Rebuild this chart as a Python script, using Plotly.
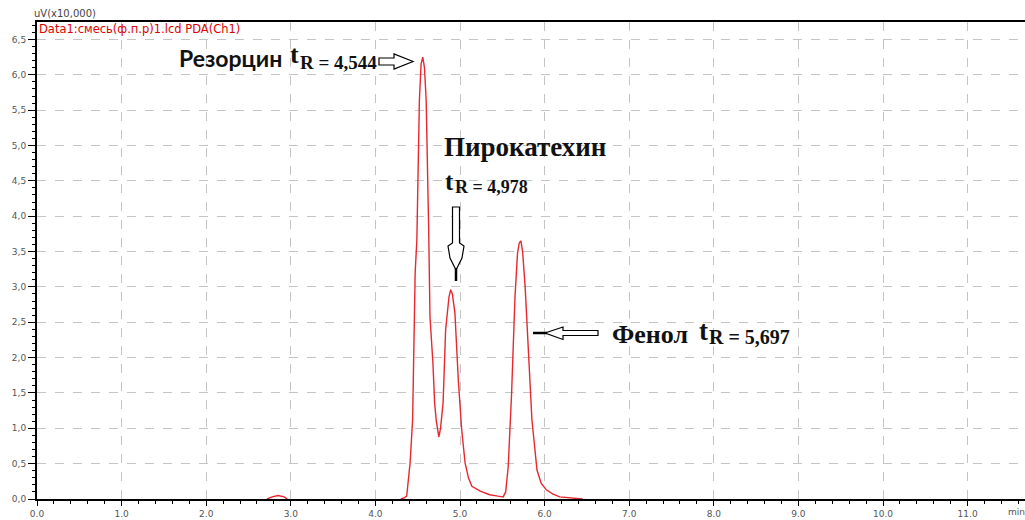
import plotly.graph_objects as go

# ---------------- data ----------------
# None marks a stretch where the trace lies on the baseline (hidden by the axis)
time_min = [2.72, 2.78, 2.85, 2.92, 2.96, None, 4.30, 4.33, 4.37, 4.41, 4.44, 4.45,
            4.47, 4.49, 4.52, 4.54, 4.56, 4.58, 4.60, 4.63, 4.645, 4.68, 4.70,
            4.72, 4.75, 4.77, 4.80, 4.83, 4.87, 4.89, 4.91, 4.94, 4.98, 5.02,
            5.06, 5.10, 5.14, 5.24, 5.35, 5.45, 5.51, 5.54, 5.57, 5.61, 5.65,
            5.68, 5.70, 5.72, 5.74, 5.77, 5.81, 5.85, 5.91, 5.96, 6.02, 6.10,
            6.18, 6.30, 6.42, 6.45]
signal = [0.00, 0.03, 0.05, 0.03, 0.00, None, 0.00, 0.01, 0.04, 0.51, 1.12, 2.01,
          3.20, 3.66, 5.64, 6.15, 6.25, 6.10, 5.64, 3.80, 2.58, 1.92, 1.36,
          1.10, 0.88, 1.00, 1.36, 2.39, 2.86, 2.96, 2.90, 2.63, 1.68, 0.98,
          0.51, 0.30, 0.18, 0.11, 0.06, 0.04, 0.03, 0.10, 0.46, 1.50, 2.86,
          3.48, 3.62, 3.65, 3.50, 3.00, 1.97, 1.12, 0.41, 0.22, 0.13, 0.07,
          0.03, 0.02, 0.01, 0.00]

x_tick_vals = [0, 1, 2, 3, 4, 5, 6, 7, 8, 9, 10, 11]
x_tick_text = ["0.0", "1.0", "2.0", "3.0", "4.0", "5.0", "6.0", "7.0", "8.0",
               "9.0", "10.0", "11.0"]
y_tick_vals = [0.0, 0.5, 1.0, 1.5, 2.0, 2.5, 3.0, 3.5, 4.0, 4.5, 5.0, 5.5, 6.0, 6.5]
y_tick_text = ["0,0", "0,5", "1,0", "1,5", "2,0", "2,5", "3,0", "3,5", "4,0",
               "4,5", "5,0", "5,5", "6,0", "6,5"]

peak_names = ["Резорцин", "Пирокатехин", "Фенол"]
peak_tr = ["4,544", "4,978", "5,697"]
y_unit_label = "uV(x10,000)"
data_label = "Data1:смесь(ф.п.р)1.lcd PDA(Ch1)"
x_unit_label = "min"

# ---------------- layout geometry (pixels) ----------------
W, H = 1025, 520
L, R, T, B = 37, 1025, 22, 499
PX_PER_X = 84.6
PX_PER_Y = 70.7
x_max = (R - L) / PX_PER_X
y_max = (B - T) / PX_PER_Y


def px(x):
    return (x - L) / (R - L)


def py(y):
    return (B - y) / (B - T)


def path_from_pixels(pts):
    return "M " + " L ".join(f"{px(a):.5f},{py(b):.5f}" for a, b in pts) + " Z"


fig = go.Figure()
fig.add_trace(go.Scatter(
    x=time_min, y=signal, mode="lines", connectgaps=False,
    line=dict(color="#e8282e", width=1.4),
    hoverinfo="skip",
))

grid = dict(showgrid=True, gridcolor="#c4c4c4", gridwidth=1, griddash="dash")
tickfont = dict(family="DejaVu Sans", size=9, color="#555555")

fig.update_xaxes(
    range=[0, x_max], tickmode="array", tickvals=x_tick_vals, ticktext=x_tick_text,
    showline=True, linecolor="black", linewidth=2, mirror=True,
    ticks="outside", ticklen=5, tickwidth=1, tickcolor="black",
    minor=dict(dtick=0.2, tick0=0, ticks="outside", ticklen=3, tickcolor="black",
               showgrid=False),
    zeroline=False, tickfont=tickfont, layer="above traces", **grid,
)
fig.update_yaxes(
    range=[0, y_max], tickmode="array", tickvals=y_tick_vals, ticktext=y_tick_text,
    showline=True, linecolor="black", linewidth=2, mirror=False,
    ticks="outside", ticklen=7, tickwidth=1, tickcolor="black",
    minor=dict(dtick=0.1, tick0=0, ticks="outside", ticklen=3, tickcolor="black",
               showgrid=False),
    zeroline=False, tickfont=tickfont, layer="above traces", **grid,
)

ann = []


def add_text(text, x, y, family, size, color="#111111", bold=True, xanchor="left"):
    t = f"<b>{text}</b>" if bold else text
    ann.append(dict(text=t, x=px(x), y=py(y), xref="paper", yref="paper",
                    showarrow=False, xanchor=xanchor, yanchor="middle",
                    font=dict(family=family, size=size, color=color)))


SERIF = "Liberation Serif"
SANS = "Lato"

add_text(y_unit_label, 32, 13, "DejaVu Sans", 10, color="#444444", bold=False)
add_text(data_label, 37, 29, "DejaVu Sans", 11.5, color="#e00000", bold=False)
add_text(x_unit_label, 1006, 512, "DejaVu Sans", 9, color="#555555", bold=False)

# Резорцин
add_text(peak_names[0], 177, 58, SANS, 23)
add_text("t", 288, 55, SERIF, 26)
add_text("R = " + peak_tr[0], 298, 62, SERIF, 19)
# Пирокатехин
add_text(peak_names[1], 442, 147, SERIF, 27)
add_text("t", 443, 181, SERIF, 25)
add_text("R = " + peak_tr[1], 453, 187, SERIF, 18)
# Фенол
add_text(peak_names[2], 610, 334, SERIF, 26)
add_text("t", 697, 331, SERIF, 27)
add_text("R = " + peak_tr[2], 707, 337, SERIF, 20)

fig.update_layout(annotations=ann)

arrow_style = dict(type="path", xref="paper", yref="paper",
                   line=dict(color="black", width=1.2), fillcolor="white")
# right-pointing arrow (Резорцин)
fig.add_shape(path=path_from_pixels([(379, 58), (394, 58), (394, 54), (413, 61.5),
                                     (394, 69), (394, 65), (379, 65)]), **arrow_style)
# down-pointing arrow (Пирокатехин)
fig.add_shape(path=path_from_pixels([(452.5, 207), (459.5, 207), (459.5, 243),
                                     (464, 246), (462, 258), (456, 270), (450, 258),
                                     (448, 246), (452.5, 243)]), **arrow_style)
fig.add_shape(type="line", xref="paper", yref="paper", x0=px(456), x1=px(456),
              y0=py(268), y1=py(281), line=dict(color="black", width=2.5))
# left-pointing arrow (Фенол)
fig.add_shape(path=path_from_pixels([(598, 330.5), (563, 330.5), (563, 327),
                                     (545, 333), (563, 339.5), (563, 335.5),
                                     (598, 335.5)]), **arrow_style)
fig.add_shape(type="line", xref="paper", yref="paper", x0=px(533), x1=px(547),
              y0=py(333), y1=py(333), line=dict(color="black", width=2.5))

fig.update_layout(
    width=W, height=H, autosize=False,
    margin=dict(l=L, r=W - R, t=T, b=H - B, pad=0),
    plot_bgcolor="white", paper_bgcolor="white", showlegend=False,
)

fig.write_html("out.html", config={"displayModeBar": False},
               post_script="document.body.style.margin='0';"
                           "document.body.style.overflow='hidden';")
